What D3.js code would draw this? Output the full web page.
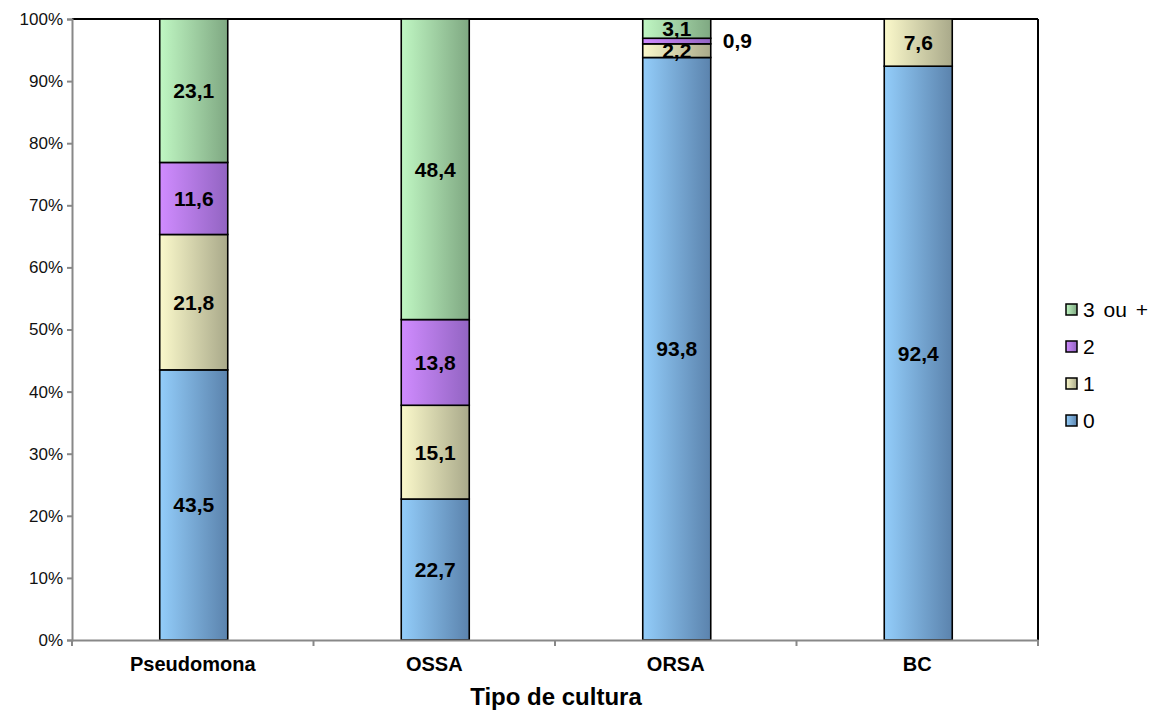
<!DOCTYPE html>
<html>
<head>
<meta charset="utf-8">
<script src="https://cdn.jsdelivr.net/npm/d3@7"></script>
<style>
  body { margin: 0; background: #fff; }
  svg { display: block; font-family: Arial, "Liberation Sans", sans-serif; }
</style>
</head>
<body>
<svg id="chart" width="1167" height="711"></svg>
<script>
// Categories and stacked series (percent of total for each culture type)
const categories = ["Pseudomona", "OSSA", "ORSA", "BC"];
const seriesNames = ["0", "1", "2", "3 ou +"];
const s0 = [43.5, 22.7, 93.8, 92.4];
const s1 = [21.8, 15.1, 2.2, 7.6];
const s2 = [11.6, 13.8, 0.9, 0];
const s3 = [23.1, 48.4, 3.1, 0];
const yTicks = [0, 10, 20, 30, 40, 50, 60, 70, 80, 90, 100];
const xTitle = "Tipo de cultura";

const seriesValues = [s0, s1, s2, s3];
const rows = categories.map((c, i) => {
  const r = { cat: c };
  seriesNames.forEach((s, k) => r[s] = seriesValues[k][i]);
  return r;
});

const gradients = {
  "0":      ["#93cdfa", "#5b83ad"],
  "1":      ["#fbf9cb", "#a9a98a"],
  "2":      ["#d08cff", "#9264c2"],
  "3 ou +": ["#c0f7c3", "#7fa882"]
};

const fmt = v => v.toFixed(1).replace(".", ",");

const svg = d3.select("#chart");
const margin = { left: 72, top: 19, right: 1038, bottom: 640 };

const x = d3.scaleBand().domain(categories).range([margin.left, margin.right]).paddingInner(0).paddingOuter(0);
const y = d3.scaleLinear().domain([0, 100]).range([margin.bottom, margin.top]);

const defs = svg.append("defs");
seriesNames.forEach((s, k) => {
  const g = defs.append("linearGradient").attr("id", "grad" + k)
    .attr("x1", "0%").attr("x2", "100%").attr("y1", "0%").attr("y2", "0%");
  g.append("stop").attr("offset", "0%").attr("stop-color", gradients[s][0]);
  g.append("stop").attr("offset", "100%").attr("stop-color", gradients[s][1]);
});

// Plot frame: black top and right edges
svg.append("line").attr("x1", margin.left).attr("x2", margin.right)
  .attr("y1", margin.top).attr("y2", margin.top).attr("stroke", "#000").attr("stroke-width", 2);
svg.append("line").attr("x1", margin.right).attr("x2", margin.right)
  .attr("y1", margin.top).attr("y2", margin.bottom).attr("stroke", "#000").attr("stroke-width", 2);

const stack = d3.stack().keys(seriesNames);
const stacked = stack(rows);

const barW = 68;
const layers = svg.append("g").selectAll("g").data(stacked).join("g")
  .attr("fill", (d, k) => `url(#grad${k})`);

layers.selectAll("rect").data(d => d.filter(p => p[1] - p[0] > 0)).join("rect")
  .attr("x", d => x(d.data.cat) + x.bandwidth() / 2 - barW / 2 + 1)
  .attr("width", barW)
  .attr("y", d => y(d[1]))
  .attr("height", d => y(d[0]) - y(d[1]))
  .attr("stroke", "#000").attr("stroke-width", 1.6);

// Axes
const yAxis = d3.axisLeft(y).tickValues(yTicks).tickFormat(d => d + "%").tickSize(5).tickPadding(4);
const gy = svg.append("g").attr("transform", `translate(${margin.left},0)`).call(yAxis);
gy.select(".domain").attr("stroke", "#888").attr("stroke-width", 2);
gy.selectAll(".tick line").attr("stroke", "#888").attr("stroke-width", 2);
gy.selectAll("text").attr("font-size", 17).attr("fill", "#111").attr("font-family", "Arial, 'Liberation Sans', sans-serif");

const xAxis = d3.axisBottom(x).tickSize(0).tickPadding(17);
const gx = svg.append("g").attr("transform", `translate(0,${margin.bottom})`).call(xAxis);
gx.select(".domain").attr("stroke", "#888").attr("stroke-width", 2);
gx.selectAll("text").attr("font-size", 20).attr("font-weight", "bold").attr("fill", "#000")
  .attr("font-family", "Arial, 'Liberation Sans', sans-serif");
// boundary ticks between categories
const bounds = categories.map(c => x(c)).concat([x.range()[1]]);
gx.selectAll(".bound").data(bounds).join("line").attr("class", "bound")
  .attr("x1", d => d).attr("x2", d => d).attr("y1", 0).attr("y2", 6)
  .attr("stroke", "#888").attr("stroke-width", 2);

svg.append("text").attr("x", x.range()[0] + (x.range()[1] - x.range()[0]) / 2 + 1).attr("y", 705)
  .attr("text-anchor", "middle").attr("font-size", 24).attr("font-weight", "bold").text(xTitle);

// Value labels
const labelG = svg.append("g").attr("font-size", 21).attr("font-weight", "bold").attr("text-anchor", "middle");
stacked.forEach((layer, k) => {
  layer.forEach(p => {
    const v = p[1] - p[0];
    if (v <= 0) return;
    const cx = x(p.data.cat) + x.bandwidth() / 2 + 1;
    const cy = (y(p[0]) + y(p[1])) / 2;
    if (v < 1.5) {
      labelG.append("text").attr("x", cx + barW / 2 + 12).attr("y", cy + 7)
        .attr("text-anchor", "start").text(fmt(v));
    } else {
      labelG.append("text").attr("x", cx).attr("y", cy + 7.5).text(fmt(v));
    }
  });
});

// Legend
const legendItems = seriesNames.slice().reverse();
const legendY = [310, 347, 384, 421];
const lg = svg.append("g");
legendItems.forEach((s, i) => {
  const k = seriesNames.indexOf(s);
  lg.append("rect").attr("x", 1066).attr("y", legendY[i] - 6).attr("width", 11).attr("height", 11)
    .attr("fill", `url(#grad${k})`).attr("stroke", "#000").attr("stroke-width", 1.5);
  lg.append("text").attr("x", 1083).attr("y", legendY[i] + 7).attr("font-size", 21)
    .attr("word-spacing", 3).attr("fill", "#000").text(s);
});
</script>
</body>
</html>
